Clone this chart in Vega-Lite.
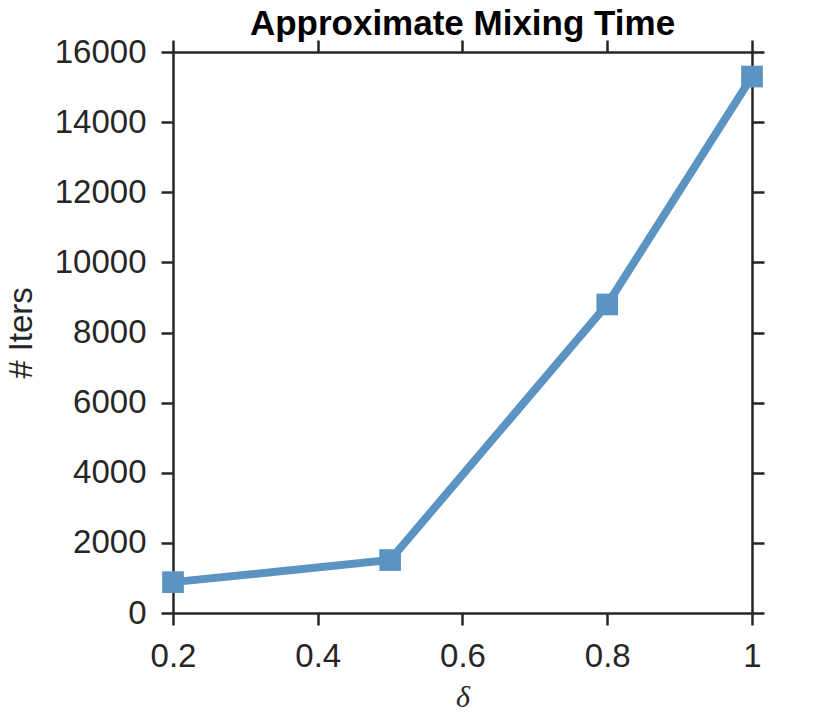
{
  "$schema": "https://vega.github.io/schema/vega-lite/v6.json",
  "width": 579,
  "height": 561,
  "autosize": "none",
  "padding": {"left": 173, "top": 52, "right": 78, "bottom": 106},
  "background": "white",
  "title": {
    "text": "Approximate Mixing Time",
    "font": "Liberation Sans",
    "fontSize": 35,
    "fontWeight": "bold",
    "color": "black",
    "anchor": "middle",
    "offset": -6
  },
  "config": {
    "view": {"stroke": null},
    "axis": {
      "domainColor": "#262626",
      "domainWidth": 2.5,
      "tickColor": "#262626",
      "tickWidth": 2.5,
      "tickSize": 12,
      "grid": false,
      "labelFlush": false,
      "labelFont": "Liberation Sans",
      "labelFontSize": 33,
      "labelColor": "#262626",
      "labelPadding": 15,
      "titleFont": "Liberation Sans",
      "titleFontSize": 33,
      "titleFontWeight": "normal",
      "titleColor": "#262626"
    }
  },
  "data": {
    "values": [
      {"delta": 0.2, "iters": 880},
      {"delta": 0.5, "iters": 1510},
      {"delta": 0.8, "iters": 8800},
      {"delta": 1.0, "iters": 15300}
    ]
  },
  "layer": [
    {
      "mark": {"type": "line", "color": "#5b94c2", "strokeWidth": 8},
      "encoding": {
        "x": {
          "field": "delta",
          "type": "quantitative",
          "scale": {"domain": [0.2, 1], "nice": false, "zero": false},
          "axis": {
            "orient": "bottom",
            "values": [0.2, 0.4, 0.6, 0.8, 1],
            "format": "~g",
            "title": "δ",
            "titleFont": "Liberation Serif",
            "titleFontStyle": "italic",
            "titleFontSize": 30,
            "titlePadding": 9
          }
        },
        "y": {
          "field": "iters",
          "type": "quantitative",
          "scale": {"domain": [0, 16000], "nice": false},
          "axis": {
            "orient": "left",
            "values": [0, 2000, 4000, 6000, 8000, 10000, 12000, 14000, 16000],
            "format": "d",
            "title": "# Iters",
            "titlePadding": 16
          }
        }
      }
    },
    {
      "mark": {"type": "point", "shape": "square", "filled": true, "size": 470, "opacity": 1, "color": "#5b94c2"},
      "encoding": {
        "x": {
          "field": "delta",
          "type": "quantitative",
          "axis": {"orient": "top", "values": [0.2, 0.4, 0.6, 0.8, 1], "labels": false, "title": null}
        },
        "y": {
          "field": "iters",
          "type": "quantitative",
          "axis": {"orient": "right", "values": [0, 2000, 4000, 6000, 8000, 10000, 12000, 14000, 16000], "labels": false, "title": null}
        }
      }
    }
  ],
  "resolve": {"axis": {"x": "independent", "y": "independent"}}
}
